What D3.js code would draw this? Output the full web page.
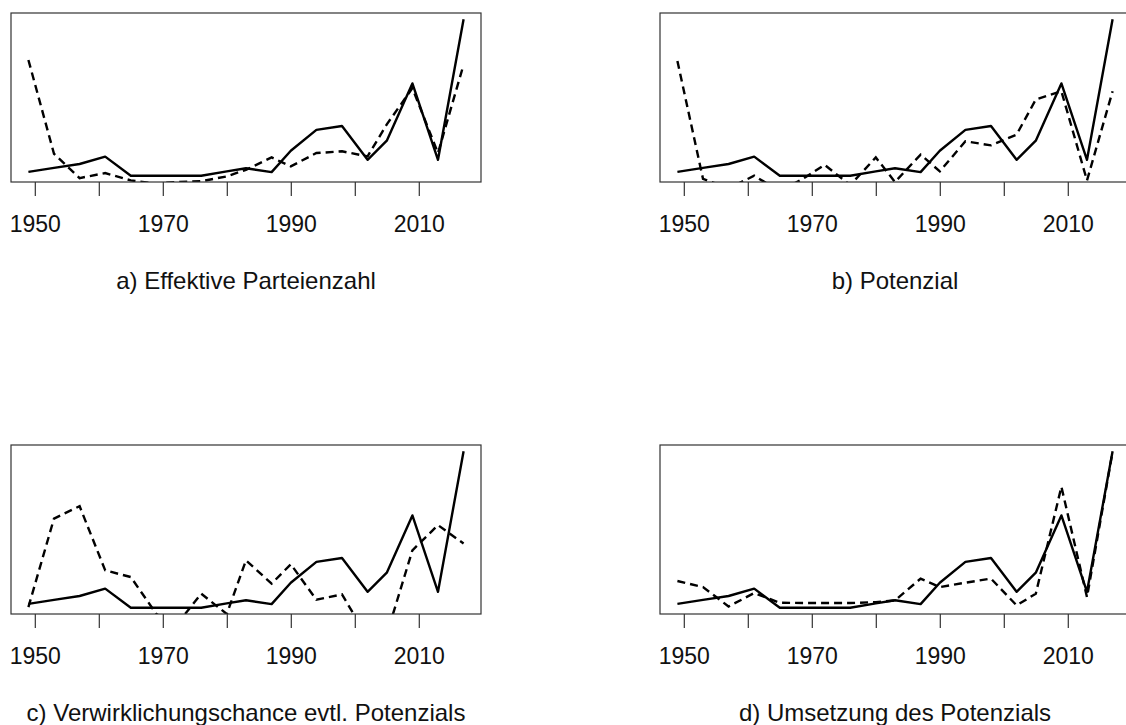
<!DOCTYPE html>
<html lang="de">
  <head>
    <meta charset="UTF-8" />
    <title>Zeitreihen</title>
    <script src="https://d3js.org/d3.v7.min.js"></script>
    <style>
      body { margin: 0; background: #fff; }
      svg { display: block; font-family: 'Liberation Sans', Arial, sans-serif; }
    </style>
  </head>

  <body>
    <div id="graph"></div>
    <script>
      // Wahljahre
      const years = [1949, 1953, 1957, 1961, 1965, 1969, 1972, 1976, 1980, 1983, 1987, 1990, 1994, 1998, 2002, 2005, 2009, 2013, 2017]
      // durchgezogene Linie (in allen vier Feldern gleich), skaliert 0..100
      const outcome = [2.5, 5, 7.5, 12.2, 0, 0, 0, 0, 2.8, 4.8, 2.3, 16, 29.3, 31.8, 10.2, 22.4, 59, 10.2, 100]
      // gestrichelte Linien, gleiche Skala (Werte unter 0 werden abgeschnitten)
      const effParteienzahl = [74, 14, -1.5, 1.7, -3, -5, -4, -3.5, -0.4, 3.8, 11.7, 6, 14.5, 15.6, 12.4, 32.8, 56, 14.5, 71]
      const potenzial = [73.3, -2, -8, 0, -10, -1, 7, -6, 11.7, -4, 13.5, 2.8, 22, 19.4, 26.3, 48.7, 54, -3, 54]
      const verwirklichung = [0.4, 57, 64.9, 23.9, 19.6, -4, -11.6, 9, -4, 30.3, 15.4, 27.8, 5.1, 8.5, -19, -17, 36.7, 52.8, 41]
      const umsetzung = [17.1, 13.2, 0.8, 9.4, 3.2, 3, 3, 3, 3.6, 4.7, 18.6, 13.2, 16, 18.6, 1.5, 9, 77.3, 6.8, 99.7]
      const tickYears = [1950, 1960, 1970, 1980, 1990, 2000, 2010]
      const labelYears = [1950, 1970, 1990, 2010]
      const titles = ['a) Effektive Parteienzahl', 'b) Potenzial', 'c) Verwirklichungschance evtl. Potenzials', 'd) Umsetzung des Potenzials']
      const dashedSeries = [effParteienzahl, potenzial, verwirklichung, umsetzung]

      const W = 1126
      const H = 725
      const svg = d3.select('#graph').append('svg').attr('width', W).attr('height', H)

      // Plotbereiche (wie R: Achsen 4% erweitert)
      const boxW = 470
      const boxH = 169
      const panels = [
        { x: 11, y: 13 },
        { x: 660, y: 13 },
        { x: 11, y: 445 },
        { x: 660, y: 445 }
      ]

      const xPad = (d3.max(years) - d3.min(years)) * 0.04
      const yMin = d3.min(outcome)
      const yMax = d3.max(outcome)
      const yPad = (yMax - yMin) * 0.04

      panels.forEach((p, i) => {
        const g = svg.append('g').attr('transform', `translate(${p.x}, ${p.y})`)
        const x = d3.scaleLinear().domain([d3.min(years) - xPad, d3.max(years) + xPad]).range([0, boxW])
        const y = d3.scaleLinear().domain([yMin - yPad, yMax + yPad]).range([boxH, 0])

        g.append('clipPath').attr('id', 'clip' + i)
          .append('rect').attr('width', boxW).attr('height', boxH)

        const line = (vals) => d3.line().x((_, k) => x(years[k])).y((d) => y(d))(vals)

        const plot = g.append('g').attr('clip-path', `url(#clip${i})`)
        plot.append('path')
          .attr('d', line(outcome))
          .attr('fill', 'none').attr('stroke', '#000').attr('stroke-width', 2.4)
          .attr('stroke-linejoin', 'round')
        plot.append('path')
          .attr('d', line(dashedSeries[i]))
          .attr('fill', 'none').attr('stroke', '#000').attr('stroke-width', 2.4)
          .attr('stroke-dasharray', '8,5')

        g.append('rect')
          .attr('width', boxW).attr('height', boxH)
          .attr('fill', 'none').attr('stroke', '#333').attr('stroke-width', 1.2)

        const axis = d3.axisBottom(x)
          .tickValues(tickYears)
          .tickSize(14)
          .tickPadding(20)
          .tickFormat((d) => (labelYears.includes(d) ? d : ''))
        const ax = g.append('g').attr('transform', `translate(0, ${boxH})`).call(axis)
        ax.select('.domain').remove()
        ax.selectAll('line').attr('stroke', '#333').attr('stroke-width', 1.2)
        ax.selectAll('text').attr('fill', '#111').attr('font-size', 23).attr('font-family', null)

        g.append('text')
          .attr('x', boxW / 2)
          .attr('y', boxH + 107)
          .attr('text-anchor', 'middle')
          .attr('font-size', 24)
          .attr('fill', '#111')
          .text(titles[i])
      })
    </script>
  </body>
</html>
